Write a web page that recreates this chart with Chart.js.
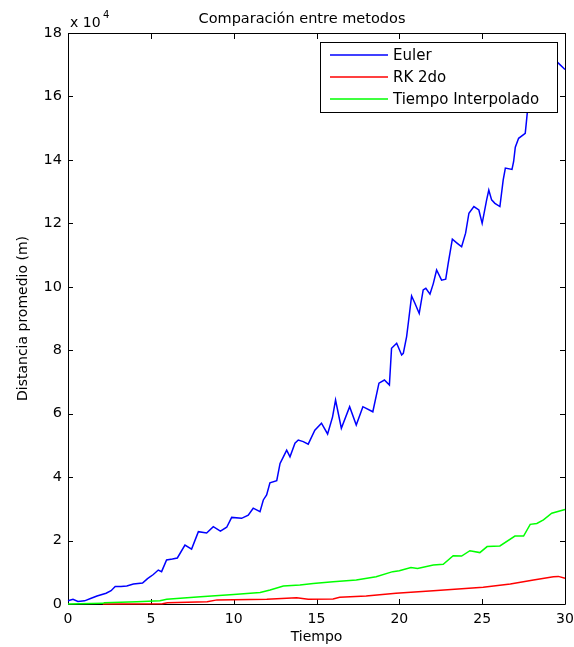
<!DOCTYPE html>
<html>
<head>
<meta charset="utf-8">
<script src="https://cdn.jsdelivr.net/npm/chart.js@4.4.1/dist/chart.umd.min.js"></script>
<style>
html,body{margin:0;padding:0;background:#fff;}
canvas{display:block;}
</style>
</head>
<body>
<canvas id="c" width="574" height="647"></canvas>
<script>
// Values in units of 10^4 m (axis shows "x 10^4")
const euler = [[0,0.1],[0.3,0.15],[0.6,0.08],[1.0,0.1],[1.4,0.18],[1.75,0.25],[2.3,0.34],[2.6,0.42],[2.85,0.55],[3.2,0.55],[3.55,0.57],[3.95,0.63],[4.5,0.66],[4.8,0.8],[5.15,0.93],[5.45,1.07],[5.65,1.02],[5.95,1.39],[6.3,1.42],[6.6,1.45],[7.06,1.86],[7.46,1.73],[7.87,2.28],[8.37,2.24],[8.77,2.44],[9.2,2.3],[9.58,2.42],[9.88,2.73],[10.48,2.7],[10.88,2.8],[11.18,3.02],[11.59,2.91],[11.79,3.28],[11.99,3.44],[12.19,3.82],[12.6,3.89],[12.8,4.43],[13.0,4.64],[13.2,4.85],[13.4,4.64],[13.7,5.07],[13.9,5.17],[14.2,5.12],[14.5,5.04],[14.9,5.48],[15.3,5.7],[15.67,5.36],[15.97,5.9],[16.15,6.43],[16.5,5.54],[17.0,6.22],[17.4,5.64],[17.8,6.22],[18.4,6.06],[18.77,6.96],[19.1,7.06],[19.4,6.9],[19.53,8.06],[19.84,8.22],[20.14,7.85],[20.24,7.9],[20.44,8.43],[20.54,8.85],[20.74,9.71],[20.94,9.48],[21.2,9.16],[21.44,9.9],[21.6,9.95],[21.85,9.77],[22.05,10.1],[22.25,10.53],[22.55,10.21],[22.8,10.24],[22.95,10.74],[23.2,11.5],[23.5,11.37],[23.76,11.26],[24.0,11.69],[24.2,12.32],[24.5,12.53],[24.8,12.42],[25.0,12.0],[25.27,12.74],[25.4,13.05],[25.57,12.74],[25.77,12.63],[26.07,12.53],[26.27,13.37],[26.4,13.74],[26.8,13.7],[26.9,13.95],[27.0,14.4],[27.2,14.68],[27.6,14.84],[27.67,15.2],[27.8,15.9],[28.0,16.7],[28.3,17.3],[28.8,17.6],[29.2,17.3],[29.6,17.05],[30,16.85]];
const rk2 = [[2.1,0],[5.7,0.01],[6.0,0.04],[8.4,0.07],[9.0,0.13],[12.0,0.15],[13.8,0.2],[14.5,0.15],[16.0,0.16],[16.4,0.21],[18.0,0.25],[19.8,0.34],[22.05,0.42],[25.06,0.53],[26.7,0.63],[28.1,0.76],[29.3,0.86],[29.6,0.87],[30,0.81]];
const interp = [[0,0],[2.1,0.02],[2.2,0.04],[4.15,0.07],[5.55,0.1],[5.96,0.15],[8.0,0.23],[10.0,0.3],[11.6,0.36],[12.2,0.44],[13.0,0.57],[14.0,0.6],[14.8,0.65],[16.0,0.7],[17.4,0.76],[18.6,0.86],[19.6,1.02],[20.0,1.05],[20.7,1.15],[21.1,1.12],[22.05,1.23],[22.65,1.25],[23.25,1.52],[23.76,1.51],[24.26,1.68],[24.86,1.62],[25.3,1.81],[26.07,1.83],[26.98,2.14],[27.5,2.14],[27.9,2.51],[28.3,2.54],[28.7,2.65],[29.2,2.86],[30,2.98]];
const seriesNames = ['Euler','RK 2do','Tiempo Interpolado'];
const seriesColors = ['#0000ff','#ff0000','#00ff00'];
const xTicks = [0,5,10,15,20,25,30];
const yTicks = [0,2,4,6,8,10,12,14,16,18];
const titleText = 'Comparación entre metodos';
const xTitle = 'Tiempo';
const yTitle = 'Distancia promedio (m)';

const FONT = 'DejaVu Sans';
Chart.defaults.font.family = FONT;
Chart.defaults.color = '#000';

const toPts = a => a.map(p => ({x:p[0], y:p[1]}));

const decor = {
  id:'decor',
  beforeDatasetsDraw(chart){
    const {ctx, chartArea:a, scales:{x,y}} = chart;
    ctx.save();
    ctx.strokeStyle = '#000';
    ctx.lineWidth = 1;
    ctx.beginPath();
    ctx.rect(a.left+0.5, a.top+0.5, a.right-a.left, a.bottom-a.top);
    xTicks.forEach(v => {
      const px = Math.round(x.getPixelForValue(v))+0.5;
      ctx.moveTo(px, a.bottom); ctx.lineTo(px, a.bottom-5);
      ctx.moveTo(px, a.top); ctx.lineTo(px, a.top+6);
    });
    yTicks.forEach(v => {
      const py = Math.round(y.getPixelForValue(v))+0.5;
      ctx.moveTo(a.left, py); ctx.lineTo(a.left+5, py);
      ctx.moveTo(a.right, py); ctx.lineTo(a.right-5, py);
    });
    ctx.stroke();
    ctx.restore();
  },
  afterDatasetsDraw(chart){
    const {ctx} = chart;
    ctx.save();
    // legend box
    const lx = 320, ly = 42, lw = 237, lh = 70;
    ctx.fillStyle = '#fff';
    ctx.fillRect(lx, ly, lw, lh);
    ctx.strokeStyle = '#000';
    ctx.lineWidth = 1;
    ctx.strokeRect(lx+0.5, ly+0.5, lw, lh);
    ctx.font = '15px "' + FONT + '"';
    ctx.textBaseline = 'middle';
    ctx.textAlign = 'left';
    seriesNames.forEach((n,i) => {
      const yy = 55 + i*22;
      ctx.strokeStyle = seriesColors[i];
      ctx.lineWidth = 1.5;
      ctx.beginPath(); ctx.moveTo(330, yy); ctx.lineTo(388, yy); ctx.stroke();
      ctx.fillStyle = '#000';
      ctx.fillText(n, 393, yy+1);
    });
    // title
    ctx.fillStyle = '#000';
    ctx.font = '14.5px "' + FONT + '"';
    ctx.textBaseline = 'alphabetic';
    ctx.textAlign = 'center';
    ctx.fillText(titleText, 302, 22.5);
    // exponent label
    ctx.textAlign = 'left';
    ctx.font = '14px "' + FONT + '"';
    ctx.fillText('x 10', 70, 26.5);
    ctx.font = '10px "' + FONT + '"';
    ctx.fillText('4', 103, 18);
    ctx.restore();
  }
};

new Chart(document.getElementById('c'), {
  type:'line',
  data:{
    datasets:[
      {label:seriesNames[0], data:toPts(euler), borderColor:seriesColors[0], borderWidth:1.5, pointRadius:0, tension:0, order:3, clip:3},
      {label:seriesNames[1], data:toPts(rk2), borderColor:seriesColors[1], borderWidth:1.5, pointRadius:0, tension:0, order:2, clip:3},
      {label:seriesNames[2], data:toPts(interp), borderColor:seriesColors[2], borderWidth:1.5, pointRadius:0, tension:0, order:1, clip:3}
    ]
  },
  options:{
    responsive:false,
    animation:false,
    devicePixelRatio:1,
    layout:{padding:{top:33, right:9, left:0, bottom:0}},
    plugins:{legend:{display:false}, tooltip:{enabled:false}, title:{display:false}},
    scales:{
      x:{
        type:'linear', min:0, max:30,
        afterBuildTicks: s => { s.ticks = xTicks.map(v => ({value:v})); },
        afterFit: s => { s.height = 43; s.paddingLeft = 0; s.paddingRight = 0; },
        grid:{display:false, drawTicks:false}, border:{display:false},
        ticks:{font:{size:14}, color:'#000', padding:7, maxRotation:0},
        title:{display:true, text:xTitle, font:{size:14}, color:'#000', padding:{top:0,bottom:1}}
      },
      y:{
        type:'linear', min:0, max:18,
        afterBuildTicks: s => { s.ticks = yTicks.map(v => ({value:v})); },
        afterFit: s => { s.width = 68; s.paddingTop = 0; s.paddingBottom = 0; },
        grid:{display:false, drawTicks:false}, border:{display:false},
        ticks:{font:{size:14.5}, color:'#000', padding:6},
        title:{display:true, text:yTitle, font:{size:14}, color:'#000', padding:{top:15,bottom:0}}
      }
    }
  },
  plugins:[decor]
});
</script>
</body>
</html>
